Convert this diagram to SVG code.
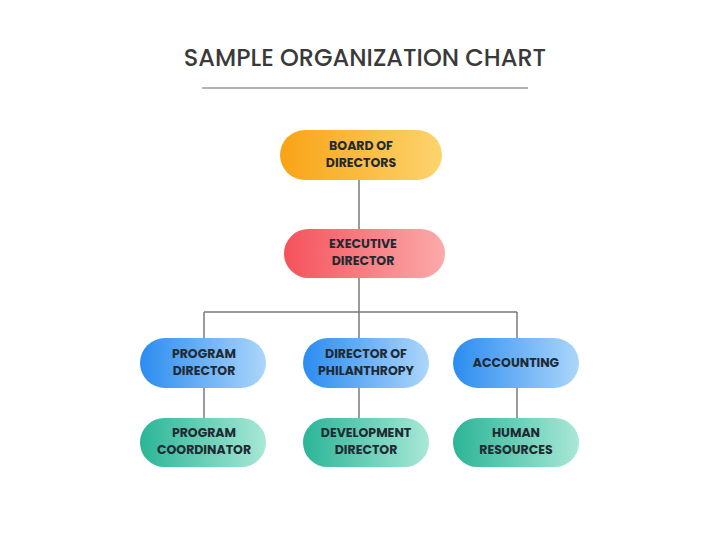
<svg xmlns="http://www.w3.org/2000/svg" width="720" height="539" viewBox="0 0 720 539">
<defs>
<linearGradient id="gO" x1="0" x2="1"><stop offset="0" stop-color="#f9a316"/><stop offset="1" stop-color="#fcd46e"/></linearGradient>
<linearGradient id="gR" x1="0" x2="1"><stop offset="0" stop-color="#f5525b"/><stop offset="1" stop-color="#fbaaab"/></linearGradient>
<linearGradient id="gB" x1="0" x2="1"><stop offset="0" stop-color="#2b8cf0"/><stop offset="1" stop-color="#acd6fb"/></linearGradient>
<linearGradient id="gT" x1="0" x2="1"><stop offset="0" stop-color="#2bb597"/><stop offset="1" stop-color="#a8e8d6"/></linearGradient>
<style>
.t{font-family:Poppins,"Liberation Sans",Arial,sans-serif;font-weight:bold;font-size:12.5px;fill:#1f2a33;text-anchor:middle}
.c{stroke:#7a7a7a;stroke-width:1.5;fill:none}
</style>
</defs>
<rect width="720" height="539" fill="#fff"/>
<text x="365" y="66" style="font-family:Poppins,'Liberation Sans',Arial,sans-serif;font-weight:500;font-size:24px;fill:#3a3a3a;text-anchor:middle">SAMPLE ORGANIZATION CHART</text>
<line x1="202" y1="88" x2="528" y2="88" stroke="#9a9a9a" stroke-width="1.5"/>
<g id="connectors">
<path class="c" d="M359 180V229M359 278V312M204 312H517M204 312V338M359 312V338M517 312V338M204 388V418M359 388V418M517 388V418"/>
</g>
<g id="board"><rect x="280" y="130" width="162" height="50" rx="25" fill="url(#gO)"/><text class="t" x="361" y="150">BOARD OF</text><text class="t" x="361" y="167">DIRECTORS</text></g>
<g id="exec"><rect x="284" y="229" width="161" height="49" rx="24.5" fill="url(#gR)"/><text class="t" x="363" y="248">EXECUTIVE</text><text class="t" x="363" y="265">DIRECTOR</text></g>
<g id="program"><rect x="140" y="338" width="126" height="50" rx="25" fill="url(#gB)"/><text class="t" x="204" y="358">PROGRAM</text><text class="t" x="204" y="375">DIRECTOR</text></g>
<g id="philanthropy"><rect x="303" y="338" width="126" height="50" rx="25" fill="url(#gB)"/><text class="t" x="366" y="358">DIRECTOR OF</text><text class="t" x="366" y="375">PHILANTHROPY</text></g>
<g id="accounting"><rect x="453" y="338" width="126" height="50" rx="25" fill="url(#gB)"/><text class="t" x="516" y="367">ACCOUNTING</text></g>
<g id="coordinator"><rect x="140" y="418" width="126" height="49" rx="24.5" fill="url(#gT)"/><text class="t" x="204" y="437">PROGRAM</text><text class="t" x="204" y="454">COORDINATOR</text></g>
<g id="development"><rect x="303" y="418" width="126" height="49" rx="24.5" fill="url(#gT)"/><text class="t" x="366" y="437">DEVELOPMENT</text><text class="t" x="366" y="454">DIRECTOR</text></g>
<g id="hr"><rect x="453" y="418" width="126" height="49" rx="24.5" fill="url(#gT)"/><text class="t" x="516" y="437">HUMAN</text><text class="t" x="516" y="454">RESOURCES</text></g>
</svg>
